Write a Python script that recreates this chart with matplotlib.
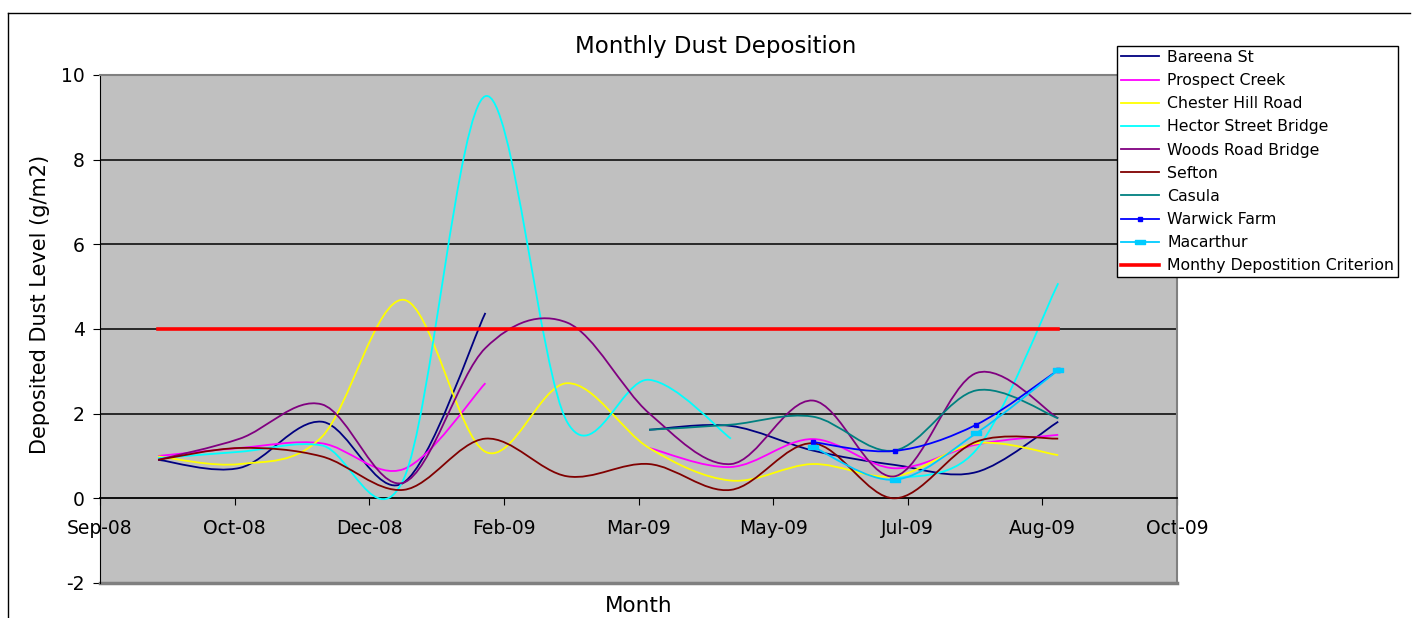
import numpy as np
import matplotlib
matplotlib.use('Agg')
import matplotlib.pyplot as plt
import matplotlib.dates as mdates
from matplotlib.path import Path
from matplotlib.patches import PathPatch
from matplotlib.lines import Line2D
import datetime as dt

plt.rcParams['axes.unicode_minus'] = False

# sampling dates (one per month)
dates = ['2008-09-23', '2008-10-24', '2008-11-24', '2008-12-25', '2009-01-25', '2009-02-25',
         '2009-03-28', '2009-04-28', '2009-05-29', '2009-06-29', '2009-07-30', '2009-08-30']
nan = np.nan

bareena = [0.91, 0.72, 1.81, 0.37, 4.38, nan, 1.62, 1.71, 1.13, 0.79, 0.62, 1.81]
prospect = [1.0, 1.19, 1.30, 0.69, 2.72, nan, 1.19, 0.74, 1.40, 0.71, 1.27, 1.50]
chester = [0.99, 0.81, 1.45, 4.69, 1.10, 2.72, 1.19, 0.42, 0.81, 0.52, 1.30, 1.02]
hector = [0.95, 1.10, 1.25, 0.45, 9.50, 1.80, 2.80, 1.41, nan, 0.46, 1.15, 5.08]
woods = [0.91, 1.41, 2.22, 0.37, 3.55, 4.15, 2.01, 0.81, 2.31, 0.52, 2.96, 1.89]
sefton = [0.91, 1.19, 0.99, 0.20, 1.41, 0.52, 0.81, 0.20, 1.30, 0.0, 1.34, 1.41]
casula = [nan, nan, nan, nan, nan, nan, 1.62, 1.74, 1.93, 1.13, 2.55, 1.89]
warwick = [nan, nan, nan, nan, nan, nan, nan, nan, 1.33, 1.12, 1.74, 3.03]
macarthur = [nan, nan, nan, nan, nan, nan, nan, nan, 1.22, 0.44, 1.54, 3.03]
criterion = [4, 4, 4, 4, 4, 4, 4, 4, 4, 4, 4, 4]

names = ['Bareena St', 'Prospect Creek', 'Chester Hill Road', 'Hector Street Bridge',
         'Woods Road Bridge', 'Sefton', 'Casula', 'Warwick Farm', 'Macarthur',
         'Monthy Depostition Criterion']
series = [bareena, prospect, chester, hector, woods, sefton, casula, warwick, macarthur, criterion]
colors = ['#000080', '#FF00FF', '#FFFF00', '#00FFFF', '#800080', '#800000', '#008080',
          '#0000FF', '#00CCFF', '#FF0000']

ytick_vals = [-2, 0, 2, 4, 6, 8, 10]

x = mdates.date2num([dt.datetime.strptime(d, '%Y-%m-%d') for d in dates])

# smoothed line like excel (catmull-rom bezier)
def smooth_path(xs, ys):
    verts = [(xs[0], ys[0])]
    codes = [Path.MOVETO]
    n = len(xs)
    for i in range(n - 1):
        x0, y0 = (xs[i - 1], ys[i - 1]) if i > 0 else (xs[i], ys[i])
        x3, y3 = (xs[i + 2], ys[i + 2]) if i + 2 < n else (xs[i + 1], ys[i + 1])
        c1 = (xs[i] + (xs[i + 1] - x0) / 6, ys[i] + (ys[i + 1] - y0) / 6)
        c2 = (xs[i + 1] - (x3 - xs[i]) / 6, ys[i + 1] - (y3 - ys[i]) / 6)
        verts += [c1, c2, (xs[i + 1], ys[i + 1])]
        codes += [Path.CURVE4] * 3
    return Path(verts, codes)

def segments(vals):
    segs, cur = [], []
    for xi, v in zip(x, vals):
        if np.isnan(v):
            if cur:
                segs.append(cur)
            cur = []
        else:
            cur.append((xi, v))
    if cur:
        segs.append(cur)
    return segs

fig = plt.figure(figsize=(14.14, 6.18), dpi=100)
ax = fig.add_axes([100 / 1414, 1 - 583 / 618, 1077 / 1414, 508 / 618])
ax.set_facecolor('#C0C0C0')

start = mdates.date2num(dt.datetime(2008, 9, 1))
ax.set_xlim(start, start + 408)
ax.set_ylim(-2, 10)

for yv in [2, 4, 6, 8]:
    ax.axhline(yv, color='black', lw=1.1, zorder=1)

mac_marker = [(-1, -0.4), (1, -0.4), (1, 0.4), (-1, 0.4), (-1, -0.4)]
handles = []
for name, vals, c in zip(names, series, colors):
    lw = 2.6 if name.startswith('Monthy') else 1.3
    for seg in segments(vals):
        xs = [p[0] for p in seg]
        ys = [p[1] for p in seg]
        if name.startswith('Monthy'):
            ax.plot(xs, ys, color=c, lw=lw, zorder=4)
        else:
            ax.add_patch(PathPatch(smooth_path(xs, ys), fill=False, edgecolor=c, lw=lw, zorder=3))
        if name == 'Warwick Farm':
            ax.plot(xs, ys, ls='none', marker='s', ms=3.5, color=c, zorder=3)
        if name == 'Macarthur':
            ax.plot(xs, ys, ls='none', marker=mac_marker, ms=6.5, color=c, zorder=3)
    if name == 'Warwick Farm':
        h = Line2D([], [], color=c, lw=lw, marker='s', ms=3.5)
    elif name == 'Macarthur':
        h = Line2D([], [], color=c, lw=lw, marker=mac_marker, ms=6.5)
    else:
        h = Line2D([], [], color=c, lw=lw)
    handles.append(h)

# spines / axis at zero
for s in ['top', 'right']:
    ax.spines[s].set_color('#808080')
    ax.spines[s].set_linewidth(1.5)
ax.spines['left'].set_color('black')
ax.spines['bottom'].set_position(('data', 0))
ax.spines['bottom'].set_color('black')
ax.spines['bottom'].set_linewidth(1.3)
ax.add_line(Line2D([0, 1], [0, 0], transform=ax.transAxes, color='#808080', lw=2.5, clip_on=False))

ax.set_xticks([start + 51 * k for k in range(9)])
ax.xaxis.set_major_formatter(mdates.DateFormatter('%b-%y'))
ax.set_yticks(ytick_vals)
ax.tick_params(axis='x', direction='out', length=5, pad=10, labelsize=13.5, colors='black')
ax.tick_params(axis='y', direction='out', length=5, pad=6, labelsize=13.5)

ax.set_ylabel('Deposited Dust Level (g/m2)', fontsize=15)
ax.yaxis.set_label_coords(-0.046, 0.549)
ax.set_xlabel('Month', fontsize=15.5)
ax.xaxis.set_label_coords(0.5, -0.026)

fig.text(0.506, 0.925, 'Monthly Dust Deposition', fontsize=16.5, ha='center', va='center')

leg = ax.legend(handles, names, loc='upper left', bbox_to_anchor=(1117 / 1414, 1 - 46 / 618),
                bbox_transform=fig.transFigure, fontsize=11.3, frameon=True, fancybox=False,
                framealpha=1, edgecolor='black', labelspacing=0.52, handlelength=2.4,
                handletextpad=0.55, borderpad=0.25, borderaxespad=0)
leg.get_frame().set_linewidth(1.0)

# chart border
fig.add_artist(Line2D([8 / 1414, 8 / 1414], [0, 1 - 13 / 618], transform=fig.transFigure, color='black', lw=1))
fig.add_artist(Line2D([8 / 1414, 1410 / 1414], [1 - 13 / 618, 1 - 13 / 618], transform=fig.transFigure, color='black', lw=1))

fig.savefig('out.png', dpi=100)
